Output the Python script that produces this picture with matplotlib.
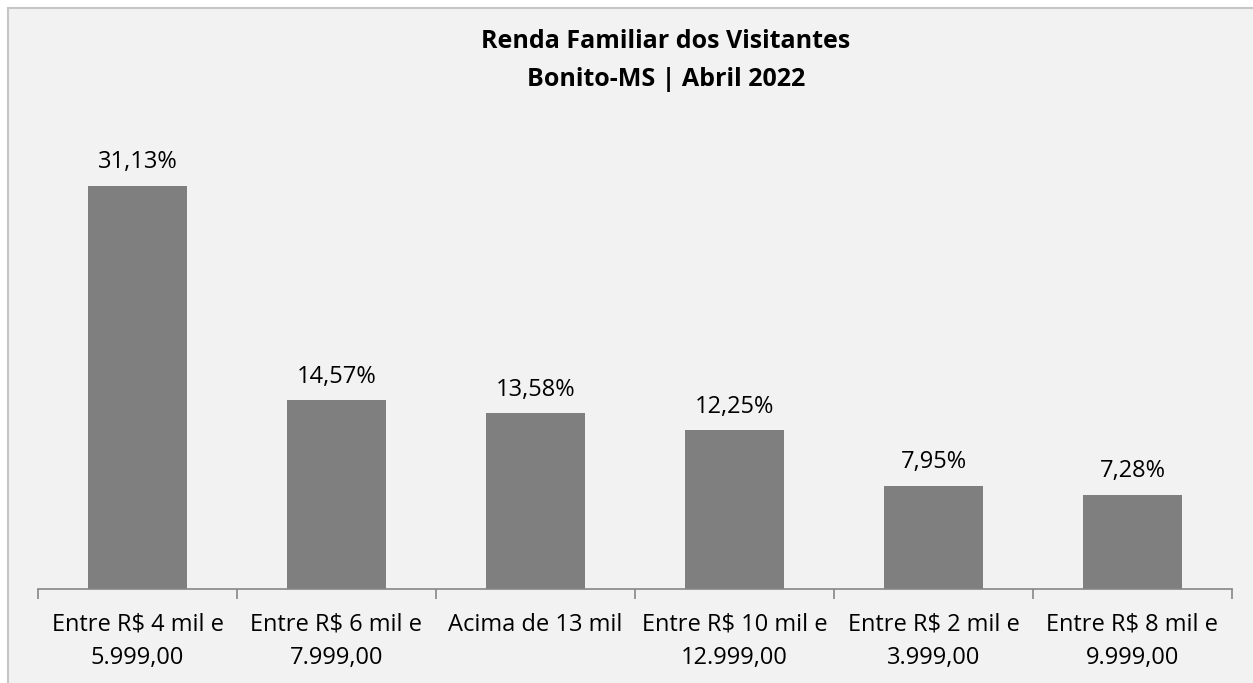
import matplotlib
matplotlib.use("Agg")
import matplotlib.pyplot as plt
from matplotlib.patches import Rectangle

categories = ["Entre R$ 4 mil e\n5.999,00", "Entre R$ 6 mil e\n7.999,00", "Acima de 13 mil",
              "Entre R$ 10 mil e\n12.999,00", "Entre R$ 2 mil e\n3.999,00", "Entre R$ 8 mil e\n9.999,00"]
values = [31.13, 14.57, 13.58, 12.25, 7.95, 7.28]
value_labels = ["31,13%", "14,57%", "13,58%", "12,25%", "7,95%", "7,28%"]
title_lines = ["Renda Familiar dos Visitantes", "Bonito-MS | Abril 2022"]

W, H = 1253, 683
plt.rcParams['font.family'] = ['Open Sans', 'DejaVu Sans']
fig = plt.figure(figsize=(W / 100, H / 100), dpi=100, facecolor="white")

# chart area box
bg = fig.add_axes([0, 0, 1, 1], zorder=-10)
bg.set_xlim(0, W)
bg.set_ylim(H, 0)
bg.axis("off")
bg.add_patch(Rectangle((8, 8), W + 20, H + 20, facecolor="#F2F2F2", edgecolor="#C6C6C6", linewidth=1.5))

left, right = 38 / W, 1232 / W
bottom = (H - 589) / H
top = (H - 136) / H
ax = fig.add_axes([left, bottom, right - left, top - bottom])
ax.set_facecolor("none")
x = list(range(len(categories)))
ax.bar(x, values, width=0.5, color="#7F7F7F", zorder=2)
ax.set_xlim(-0.5, len(categories) - 0.5)
ax.set_ylim(0, 35)
for xi, v, lab in zip(x, values, value_labels):
    ax.annotate(lab, (xi, v), xytext=(0, 17), textcoords="offset points", ha="center", va="center",
                fontsize=17, color="#000000")

for s in ["top", "right", "left"]:
    ax.spines[s].set_visible(False)
ax.spines["bottom"].set_color("#868686")
ax.spines["bottom"].set_linewidth(1.2)
ax.set_yticks([])
ax.set_xticks([i - 0.5 for i in range(len(categories) + 1)])
ax.set_xticklabels([])
ax.tick_params(axis="x", length=7, color="#868686", width=1.2)
ax.set_xticks(x, minor=True)
ax.set_xticklabels(categories, minor=True, fontsize=17, linespacing=1.5)
ax.tick_params(axis="x", which="minor", length=0, pad=17)

fig.text(666 / W, 1 - 42 / H, title_lines[0], ha="center", va="center", fontsize=18, fontweight="bold")
fig.text(666 / W, 1 - 79 / H, title_lines[1], ha="center", va="center", fontsize=18, fontweight="bold")

fig.savefig("out.png", dpi=100, facecolor="white")
